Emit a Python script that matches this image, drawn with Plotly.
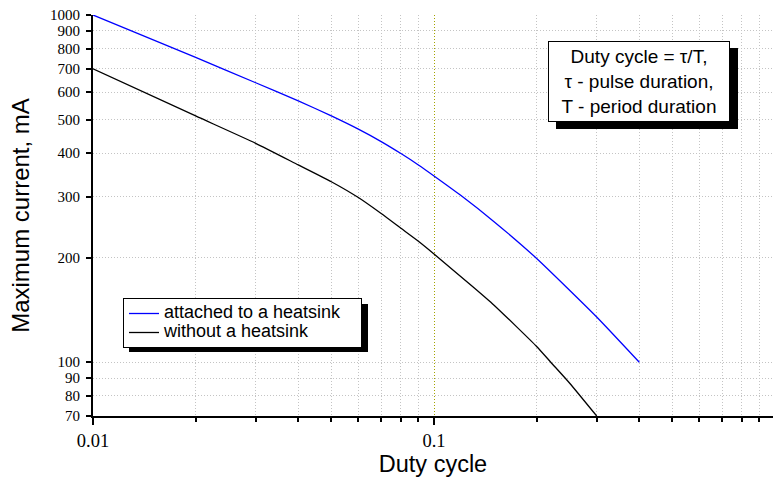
import math
import plotly.graph_objects as go

# ---------------- data ----------------
duty_heatsink = [0.01, 0.02, 0.03, 0.04, 0.05, 0.06, 0.07, 0.08, 0.09, 0.1, 0.12, 0.15, 0.2, 0.3, 0.4]
current_heatsink = [1000, 755, 638, 566, 512, 469, 432, 399, 370, 344, 302, 254, 199, 135, 100]

duty_no_heatsink = [0.01, 0.02, 0.03, 0.04, 0.05, 0.06, 0.07, 0.08, 0.09, 0.1, 0.13, 0.15, 0.2, 0.22, 0.25, 0.3]
current_no_heatsink = [700, 512, 427, 370, 331, 298, 268, 243, 223, 205, 165, 146, 111, 100, 87, 70]

series_names = ["attached to a heatsink", "without a heatsink"]

y_tick_values = [70, 80, 90, 100, 200, 300, 400, 500, 600, 700, 800, 900, 1000]
y_tick_labels = ["70", "80", "90", "100", "200", "300", "400", "500", "600", "700", "800", "900", "1000"]
y_major_values = [100, 1000]

x_major_values = [0.01, 0.1, 1]
x_major_labels = ["0.01", "0.1", "1"]
x_minor_values = [0.02, 0.03, 0.04, 0.05, 0.06, 0.07, 0.08, 0.09,
                  0.2, 0.3, 0.4, 0.5, 0.6, 0.7, 0.8, 0.9]

note_text = "Duty cycle = τ/T,<br>τ - pulse duration,<br>T - period duration"

# ---------------- layout constants ----------------
W, H = 773, 477
ML, MR, MT, MB = 93, 0, 15, 61
PW, PH = W - ML - MR, H - MT - MB
DECADE_PX = 341
x_range = [-2, -2 + PW / DECADE_PX]
y_range = [math.log10(70), 3]

SERIF = "Liberation Serif, Times New Roman, serif"
SANS = "Liberation Sans, Arial, sans-serif"
GRID = "#c4c4c4"
OLIVE = "#a3a300"
DOT = "1px,2px"


def px_to_paper_x(px):
    return (px - ML) / PW


def px_to_paper_y(py):
    return (H - MB - py) / PH


def legend_label(name):
    # legend rows are sized from legend.font.size; the visible text is drawn larger
    return '<span style="font-size:18px">' + name + '\u00a0\u00a0\u00a0</span>'


fig = go.Figure()
fig.add_trace(go.Scatter(x=duty_heatsink, y=current_heatsink, mode="lines",
                         name=legend_label(series_names[0]),
                         line=dict(color="#0000ff", width=1.3, shape="spline", smoothing=0.5)))
fig.add_trace(go.Scatter(x=duty_no_heatsink, y=current_no_heatsink, mode="lines",
                         name=legend_label(series_names[1]),
                         line=dict(color="#000000", width=1.3, shape="spline", smoothing=0.5)))

fig.update_layout(
    width=W, height=H,
    margin=dict(l=ML, r=MR, t=MT, b=MB, autoexpand=False),
    paper_bgcolor="white", plot_bgcolor="white",
    showlegend=True,
    legend=dict(
        x=px_to_paper_x(123), y=px_to_paper_y(298), xanchor="left", yanchor="top",
        bgcolor="white", bordercolor="black", borderwidth=1,
        font=dict(family=SANS, size=12, color="black"),
        tracegroupgap=0,
    ),
    xaxis=dict(
        type="log", range=x_range, autorange=False,
        tickmode="array", tickvals=x_major_values, ticktext=x_major_labels,
        ticks="outside", ticklen=7, tickwidth=1.5, tickcolor="black",
        tickfont=dict(family=SERIF, size=18.5, color="black"),
        showline=True, linewidth=2, linecolor="black",
        showgrid=True, gridcolor=OLIVE, griddash=DOT, gridwidth=1,
        zeroline=False,
        minor=dict(tickmode="array", tickvals=x_minor_values, ticks="outside", ticklen=4,
                   tickwidth=1.5, tickcolor="black", showgrid=True, gridcolor=GRID,
                   griddash=DOT, gridwidth=1),
        title=dict(text="Duty cycle", font=dict(family=SANS, size=23.5, color="black"), standoff=5),
    ),
    xaxis2=dict(
        type="log", range=x_range, autorange=False, overlaying="x", side="top", anchor="y",
        tickmode="array", tickvals=x_major_values, ticks="inside", ticklen=6, tickwidth=1.5,
        tickcolor="black", showticklabels=False,
        showline=True, linewidth=2, linecolor="black", showgrid=False, zeroline=False,
        minor=dict(tickmode="array", tickvals=x_minor_values, ticks="inside", ticklen=4,
                   tickwidth=1.5, tickcolor="black", showgrid=False),
    ),
    yaxis=dict(
        type="log", range=y_range, autorange=False,
        tickmode="array", tickvals=y_tick_values, ticktext=y_tick_labels,
        ticks="outside", ticklen=5, tickwidth=1.5, tickcolor="black",
        tickfont=dict(family=SERIF, size=15, color="black"),
        ticklabelstandoff=3,
        showline=True, linewidth=2, linecolor="black",
        showgrid=True, gridcolor=GRID, griddash=DOT, gridwidth=1,
        zeroline=False,
        title=dict(text="Maximum current, mA", font=dict(family=SANS, size=24, color="black"), standoff=14),
    ),
    yaxis2=dict(
        type="log", range=y_range, autorange=False, overlaying="y", side="left", anchor="x",
        tickmode="array", tickvals=y_major_values, ticks="outside", ticklen=8, tickwidth=1.5,
        tickcolor="black", showticklabels=False, showline=False,
        showgrid=True, gridcolor=OLIVE, griddash=DOT, gridwidth=1, zeroline=False,
    ),
    yaxis3=dict(
        type="log", range=y_range, autorange=False, overlaying="y", side="right", anchor="x",
        tickmode="array", tickvals=y_tick_values, ticks="inside", ticklen=4, tickwidth=1.5,
        tickcolor="black", showticklabels=False, showline=False, showgrid=False, zeroline=False,
    ),
)

# Drop shadows for the legend and the note box
fig.add_shape(type="rect", xref="paper", yref="paper", layer="above",
              x0=px_to_paper_x(129), x1=px_to_paper_x(368),
              y0=px_to_paper_y(352), y1=px_to_paper_y(304),
              fillcolor="black", line=dict(width=0))
fig.add_shape(type="rect", xref="paper", yref="paper", layer="above",
              x0=px_to_paper_x(556), x1=px_to_paper_x(738),
              y0=px_to_paper_y(129), y1=px_to_paper_y(48),
              fillcolor="black", line=dict(width=0))

fig.add_annotation(
    text=note_text, xref="paper", yref="paper",
    x=px_to_paper_x(639), y=px_to_paper_y(81.5), xanchor="center", yanchor="middle",
    showarrow=False, align="center",
    font=dict(family=SANS, size=19, color="black"),
    bgcolor="white", bordercolor="black", borderwidth=1, borderpad=2,
    width=176, height=75,
)

fig.write_html(
    "out.html",
    config={"displayModeBar": False},
    post_script="document.body.style.margin='0';document.body.style.overflow='hidden';",
)
